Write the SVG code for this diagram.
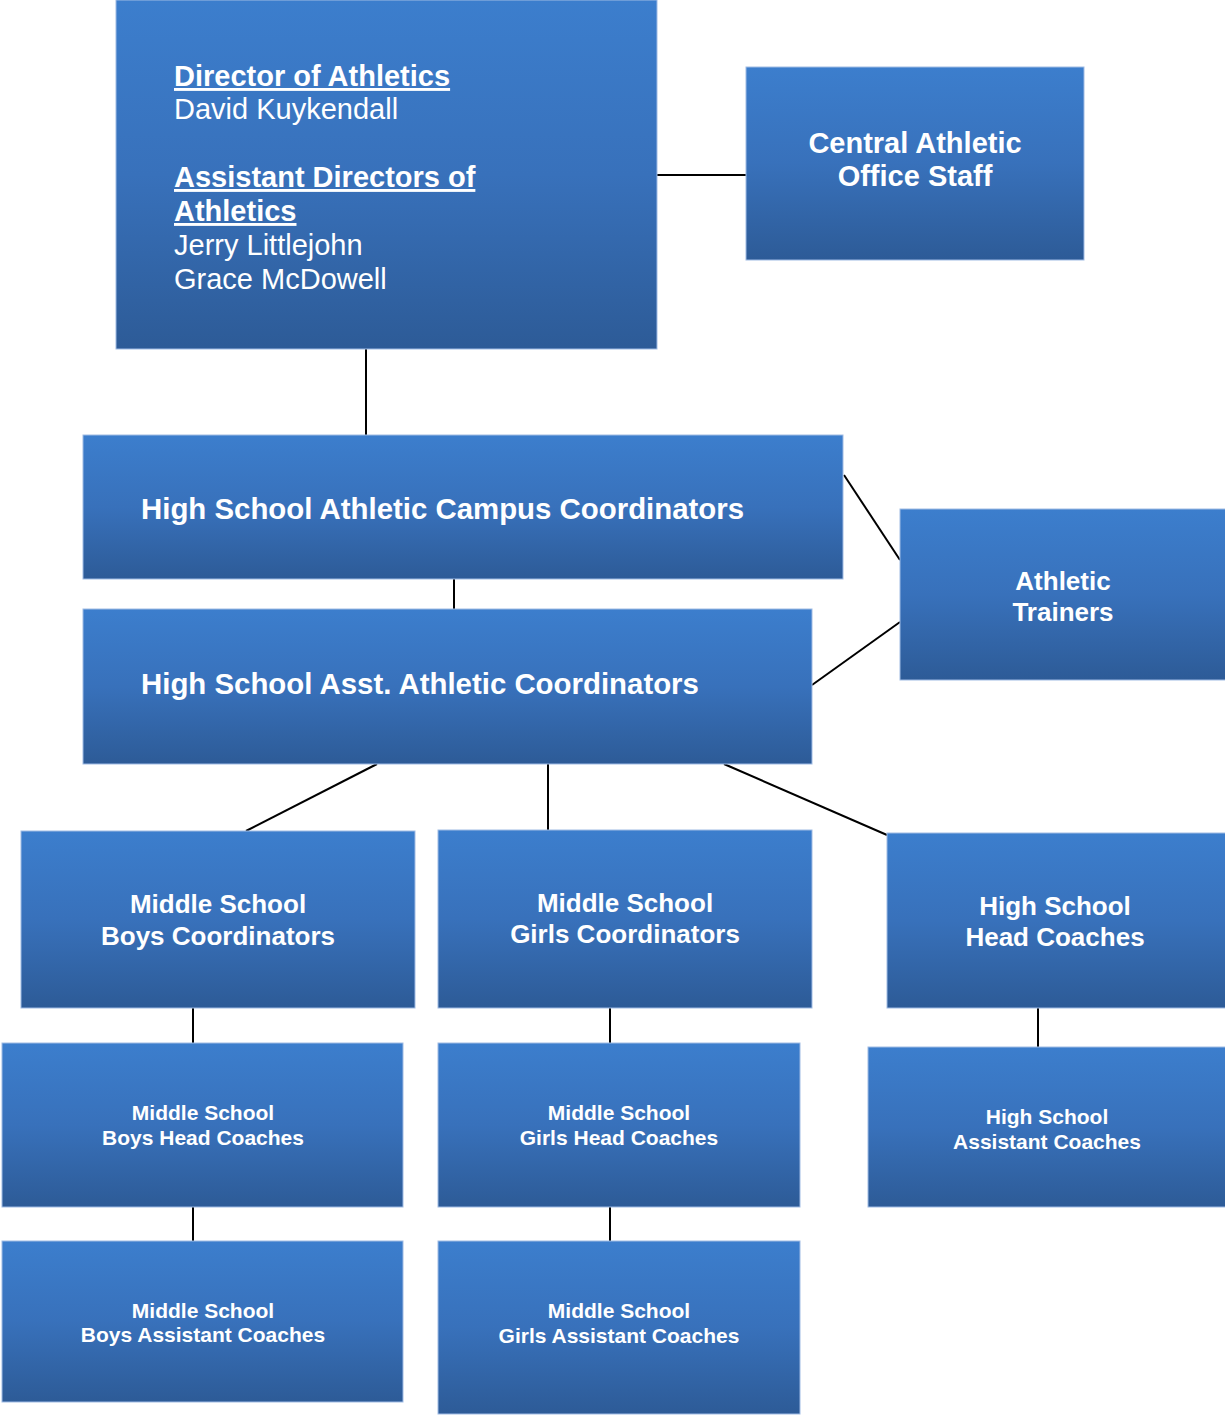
<svg xmlns="http://www.w3.org/2000/svg" width="1225" height="1416" viewBox="0 0 1225 1416">
<defs>
<linearGradient id="g" x1="0" y1="0" x2="0" y2="1">
<stop offset="0" stop-color="#3c7ecd"/>
<stop offset="0.5" stop-color="#3871bb"/>
<stop offset="1" stop-color="#2d5b97"/>
</linearGradient>
</defs>
<style>
rect{fill:url(#g);stroke:#9fbbe4;stroke-width:1}
text{fill:#ffffff;font-family:"Liberation Sans",Arial,sans-serif}
.b{font-weight:bold}
.c{text-anchor:middle}
.u{text-decoration:underline}
.l{font-size:29px}
.w{font-size:29.4px}
.m{font-size:26px}
.s{font-size:21px}
#connectors line{stroke:#000;stroke-width:2}
</style>
<rect x="0" y="0" width="1225" height="1416" style="fill:#fff;stroke:none"/>
<g id="connectors">
<line x1="657" y1="175" x2="746" y2="175"/>
<line x1="366" y1="349" x2="366" y2="435"/>
<line x1="454" y1="579" x2="454" y2="609"/>
<line x1="844" y1="475" x2="900" y2="560"/>
<line x1="812" y1="685" x2="900" y2="622"/>
<line x1="377" y1="764" x2="246" y2="831"/>
<line x1="548" y1="764" x2="548" y2="830"/>
<line x1="724" y1="764" x2="887" y2="835"/>
<line x1="193" y1="1008" x2="193" y2="1043"/>
<line x1="610" y1="1008" x2="610" y2="1043"/>
<line x1="1038" y1="1008" x2="1038" y2="1047"/>
<line x1="193" y1="1207" x2="193" y2="1241"/>
<line x1="610" y1="1207" x2="610" y2="1241"/>
</g>
<g id="director">
<rect x="116" y="0" width="541" height="349"/>
<text class="l b u" x="174" y="86">Director of Athletics</text>
<text class="l" x="174" y="119">David Kuykendall</text>
<text class="l b u" x="174" y="187">Assistant Directors of</text>
<text class="l b u" x="174" y="221">Athletics</text>
<text class="l" x="174" y="255">Jerry Littlejohn</text>
<text class="l" x="174" y="289">Grace McDowell</text>
</g>
<g id="central">
<rect x="746" y="67" width="338" height="193"/>
<text class="l b c" x="915" y="153">Central Athletic</text>
<text class="l b c" x="915" y="186">Office Staff</text>
</g>
<g id="hs-campus">
<rect x="83" y="435" width="760" height="144"/>
<text class="w b" x="141" y="519">High School Athletic Campus Coordinators</text>
</g>
<g id="hs-asst">
<rect x="83" y="609" width="729" height="155"/>
<text class="w b" x="141" y="694">High School Asst. Athletic Coordinators</text>
</g>
<g id="trainers">
<rect x="900" y="509" width="330" height="171"/>
<text class="m b c" x="1063" y="590">Athletic</text>
<text class="m b c" x="1063" y="621">Trainers</text>
</g>
<g id="ms-boys-coord">
<rect x="21" y="831" width="394" height="177"/>
<text class="m b c" x="218" y="913">Middle School</text>
<text class="m b c" x="218" y="945">Boys Coordinators</text>
</g>
<g id="ms-girls-coord">
<rect x="438" y="830" width="374" height="178"/>
<text class="m b c" x="625" y="912">Middle School</text>
<text class="m b c" x="625" y="943">Girls Coordinators</text>
</g>
<g id="hs-head">
<rect x="887" y="833" width="343" height="175"/>
<text class="m b c" x="1055" y="915">High School</text>
<text class="m b c" x="1055" y="946">Head Coaches</text>
</g>
<g id="ms-boys-head">
<rect x="2" y="1043" width="401" height="164"/>
<text class="s b c" x="203" y="1120">Middle School</text>
<text class="s b c" x="203" y="1145">Boys Head Coaches</text>
</g>
<g id="ms-girls-head">
<rect x="438" y="1043" width="362" height="164"/>
<text class="s b c" x="619" y="1120">Middle School</text>
<text class="s b c" x="619" y="1145">Girls Head Coaches</text>
</g>
<g id="hs-asst-coaches">
<rect x="868" y="1047" width="362" height="160"/>
<text class="s b c" x="1047" y="1124">High School</text>
<text class="s b c" x="1047" y="1149">Assistant Coaches</text>
</g>
<g id="ms-boys-asst">
<rect x="2" y="1241" width="401" height="161"/>
<text class="s b c" x="203" y="1318">Middle School</text>
<text class="s b c" x="203" y="1342">Boys Assistant Coaches</text>
</g>
<g id="ms-girls-asst">
<rect x="438" y="1241" width="362" height="173"/>
<text class="s b c" x="619" y="1318">Middle School</text>
<text class="s b c" x="619" y="1343">Girls Assistant Coaches</text>
</g>
</svg>
